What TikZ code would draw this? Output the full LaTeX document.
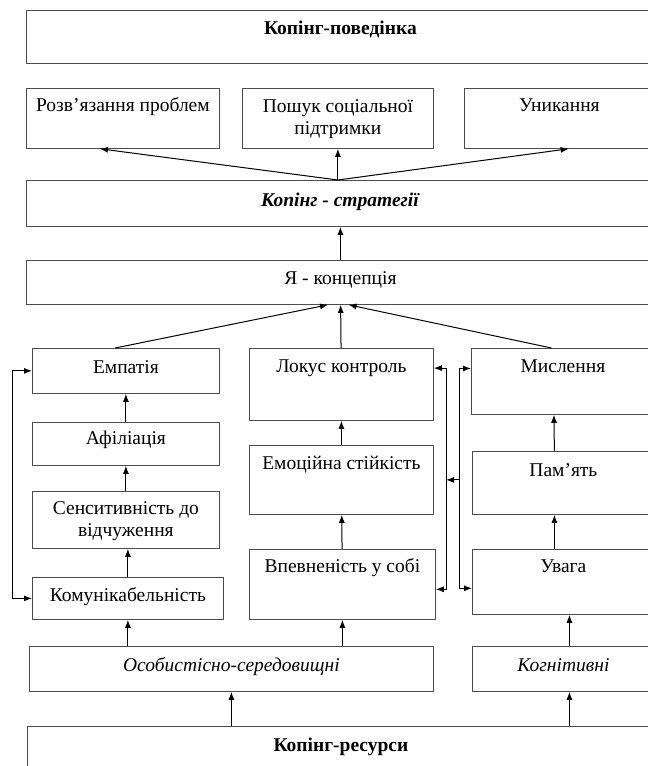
\documentclass[tikz,border=0pt]{standalone}
\usepackage{fontspec}
\setmainfont{Liberation Serif}
\usetikzlibrary{arrows.meta,calc}

\tikzset{
  blok/.style={draw=black!70, line width=0.8pt, anchor=north west,
    inner sep=0pt, font=\fontsize{19.5}{22}\selectfont},
  strilka/.style={->, line width=1pt}
}

\begin{document}
\begin{tikzpicture}[x=1pt,y=-1pt,>={Latex[length=8pt,width=6pt]}]
   \useasboundingbox (0,0) rectangle (648,766);

   % top part
   \node (povedinka) [blok, minimum width=628pt, text height=24pt, text depth=29pt] at (26,10) {\textbf{Копінг-поведінка}};
   \node (rozv)   [blok, minimum width=193pt, text height=23pt, text depth=37pt] at (26,88)  {Розв’язання проблем};
   \node (poshuk) [blok, minimum width=191pt, text height=24pt, text depth=36pt] at (242,88)
     {\begin{tabular}[t]{c}Пошук соціальної\\підтримки\end{tabular}};
   \node (unyk)   [blok, minimum width=190pt, text height=23pt, text depth=37pt] at (464,88) {Уникання};
   \node (strat)  [blok, minimum width=628pt, text height=26pt, text depth=20pt] at (26,180) {\textbf{\textit{Копінг - стратегії}}};
   \node (ya)     [blok, minimum width=628pt, text height=24pt, text depth=20pt] at (26,260) {Я - концепція};

   % three columns
   \node (empat)  [blok, minimum width=187pt, text height=25pt, text depth=20pt] at (32,348)  {Емпатія};
   \node (afil)   [blok, minimum width=187pt, text height=22pt, text depth=21pt] at (32,422)  {Афіліація};
   \node (sens)   [blok, minimum width=187pt, text height=23pt, text depth=34pt] at (32,491)
     {\begin{tabular}[t]{c}Сенситивність до\\відчуження\end{tabular}};
   \node (komun)  [blok, minimum width=191pt, text height=24pt, text depth=18pt] at (32,577)  {Комунікабельність};

   \node (lokus)  [blok, minimum width=184pt, text height=24pt, text depth=48pt] at (249,348) {Локус контроль};
   \node (emots)  [blok, minimum width=184pt, text height=24pt, text depth=45pt] at (249,445) {Емоційна стійкість};
   \node (vpevn)  [blok, minimum width=186pt, text height=23pt, text depth=47pt] at (249,549) {Впевненість у собі};

   \node (myslen) [blok, minimum width=183pt, text height=24pt, text depth=42pt] at (471,348) {Мислення};
   \node (pamyat) [blok, minimum width=182pt, text height=25pt, text depth=38pt] at (472,451) {Пам’ять};
   \node (uvaga)  [blok, minimum width=182pt, text height=23pt, text depth=42pt] at (472,549) {Увага};

   % resources
   \node (osob)    [blok, minimum width=404pt, text height=25pt, text depth=20pt] at (29,646)  {\textit{Особистісно-середовищні}};
   \node (kogn)    [blok, minimum width=182pt, text height=25pt, text depth=20pt] at (472,646) {\textit{Когнітивні}};
   \node (resursy) [blok, minimum width=627pt, text height=25pt, text depth=45pt] at (27,726)  {\textbf{Копінг-ресурси}};

   \coordinate (busL) at (446,0);
   \coordinate (busR) at (459,0);

   \path[strilka]
     (poshuk |- strat.north) edge (rozv.-127)
     (poshuk |- strat.north) edge (poshuk)
     (poshuk |- strat.north) edge (unyk.-73)
     (ya)         edge (strat)
     (empat.115)  edge (ya.-119)
     (lokus)      edge (ya)
     (myslen.109) edge (ya.-70)
     (afil)       edge (empat)
     (sens)       edge (afil)
     (komun.north) edge (komun |- sens.south)
     (emots)      edge (lokus)
     (vpevn)      edge (emots)
     ([xshift=-9pt]pamyat.north) edge ([xshift=-9pt]myslen.south)
     ([xshift=-9pt]uvaga.north)  edge ([xshift=-9pt]pamyat.south)
     (komun |- osob.north) edge (komun.south)
     (vpevn |- osob.north) edge (vpevn.south)
     ([xshift=6pt]kogn.north) edge ([xshift=6pt]uvaga.south)
     (osob |- resursy.north) edge (osob.south)
     ([xshift=6pt]kogn |- resursy.north) edge ([xshift=6pt]kogn.south)
     (emots.east -| busR) edge (emots.east -| busL);

   \draw[strilka, <->] (empat.west) -- ++(-20,0) |- (komun.west);
   \draw[strilka, <->] (lokus.10) -- (lokus.10 -| busL) -- (vpevn.-3 -| busL) -- (vpevn.-3);
   \draw[strilka, <->] (myslen.172) -- (myslen.172 -| busR) -- (uvaga.184 -| busR) -- (uvaga.184);
\end{tikzpicture}
\end{document}
